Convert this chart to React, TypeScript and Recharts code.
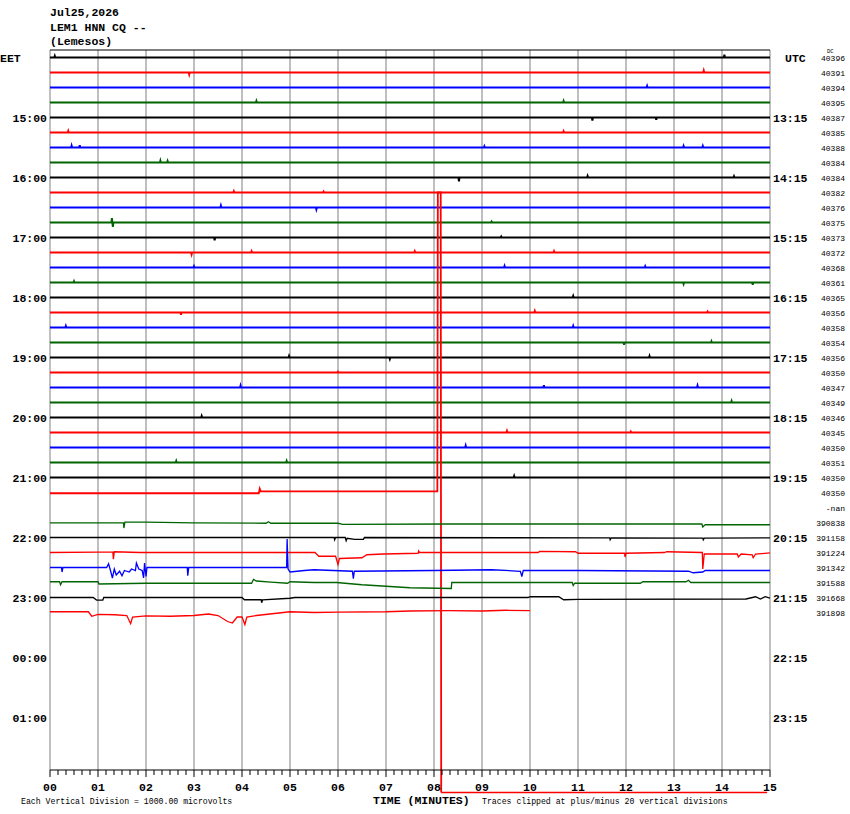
import React from "react";
import { LineChart, Line, XAxis, YAxis, ReferenceLine } from "recharts";

// [minute, offset in vertical divisions (1 division = 1000 microvolts), up is positive]
type Pt = [number, number];

const ROW_COLORS = ["#000000", "#ff0000", "#0000ff", "#006400"];
const CLIP_DIVISIONS = 20;

const LEFT_LABELS = ["EET", "15:00", "16:00", "17:00", "18:00", "19:00", "20:00", "21:00", "22:00", "23:00", "00:00", "01:00"];
const RIGHT_LABELS = ["UTC", "13:15", "14:15", "15:15", "16:15", "17:15", "18:15", "19:15", "20:15", "21:15", "22:15", "23:15"];
const MINUTE_LABELS = ["00", "01", "02", "03", "04", "05", "06", "07", "08", "09", "10", "11", "12", "13", "14", "15"];

const DC_VALUES = [
  "40396", "40391", "40394", "40395", "40387", "40385", "40388", "40384", "40384", "40382",
  "40376", "40375", "40373", "40372", "40368", "40361", "40365", "40356", "40358", "40354",
  "40356", "40350", "40347", "40349", "40346", "40345", "40350", "40351", "40350", "40350",
  "-nan", "390838", "391158", "391224", "391342", "391588", "391668", "391898",
];

// rows 0-28: quiet traces, only the small blips that show
const QUIET_ROW_SPIKES: Pt[][] = [
  [[0.1, 0.1], [14.05, 0.18]],
  [[2.9, -0.12], [13.62, 0.12]],
  [[12.44, 0.1]],
  [[4.3, 0.1], [10.7, 0.1]],
  [[11.3, -0.2], [12.63, -0.15]],
  [[0.38, 0.1], [10.7, 0.08]],
  [[0.45, 0.12], [0.62, 0.15], [9.05, 0.08], [13.2, 0.1], [13.6, 0.1]],
  [[2.3, 0.12], [2.45, 0.1]],
  [[8.52, -0.25], [11.2, 0.1], [14.25, 0.08]],
  [[3.83, 0.08], [5.7, 0.06]],
  [[3.56, 0.12], [5.55, -0.12]],
  [[1.29, 0.3], [1.31, -0.3], [9.2, 0.06]],
  [[3.43, -0.18], [9.4, 0.06]],
  [[2.95, -0.12], [4.2, 0.08], [7.6, 0.08], [10.5, 0.08]],
  [[3.0, 0.08], [9.47, 0.1], [12.4, 0.08]],
  [[0.5, 0.08], [13.2, -0.1], [14.64, -0.15]],
  [[10.9, 0.1]],
  [[2.73, -0.15], [10.1, 0.1], [13.7, 0.06]],
  [[0.33, 0.1], [10.9, 0.1]],
  [[11.96, -0.15], [13.78, 0.08]],
  [[4.98, 0.1], [7.08, -0.1], [12.49, 0.1]],
  [[6.0, 0.05]],
  [[3.97, 0.12], [10.29, 0.15], [13.49, 0.12]],
  [[14.2, 0.1]],
  [[3.16, 0.1]],
  [[9.52, 0.1], [12.1, 0.06]],
  [[8.66, 0.12]],
  [[2.63, 0.1], [4.93, 0.1]],
  [[9.67, 0.1]],
];

// row 29: big offset at 08:05, clipped at +/-20 divisions
const TRACE_ROW29: Pt[] = [
  [0, -0.05], [4.35, -0.05], [4.37, 0.25], [4.39, 0.08], [8.07, 0.08],
  [8.08, 20], [8.14, 20], [8.15, -20], [14.94, -20],
];

const TRACE_ROW31: Pt[] = [
  [0, -0.02], [1.53, -0.02], [1.54, -0.37], [1.56, 0.03], [2.0, 0.03], [3.0, -0.02],
  [4.5, -0.05], [4.55, 0.05], [4.6, -0.05], [6.0, -0.05], [6.1, -0.12], [8.3, -0.1],
  [13.58, -0.1], [13.6, -0.3], [13.65, -0.14], [15, -0.15],
];

const TRACE_ROW32: Pt[] = [
  [0, 0], [5.92, 0], [5.93, -0.15], [5.95, 0], [6.15, 0], [6.17, -0.22], [6.19, -0.05],
  [6.35, -0.12], [6.53, -0.12], [6.55, 0], [11.66, -0.03], [11.67, -0.15], [11.69, -0.03],
  [13.6, -0.04], [13.61, -0.15], [13.63, -0.04], [15, -0.03],
];

const TRACE_ROW33: Pt[] = [
  [0, 0], [1.0, 0.03], [1.31, 0.03], [1.32, -0.45], [1.34, 0.05], [1.87, 0], [5.52, 0],
  [5.6, -0.25], [5.95, -0.25], [6.0, -0.8], [6.03, -0.4], [6.5, -0.35], [6.6, -0.15],
  [6.95, -0.1], [7.67, -0.05], [7.68, 0.1], [7.7, 0], [10.17, 0], [10.2, 0.07], [10.95, 0.05],
  [11.0, -0.05], [11.97, -0.05], [11.98, -0.3], [12.0, -0.05], [12.8, 0], [12.85, 0.05],
  [13.59, 0], [13.6, -1.1], [13.63, -0.1], [14.32, -0.1], [14.34, -0.3], [14.4, -0.1],
  [14.63, -0.15], [14.65, -0.35], [14.7, -0.1], [15, -0.03],
];

const TRACE_ROW34: Pt[] = [
  [0, 0], [0.24, 0], [0.25, -0.3], [0.27, 0], [1.18, 0], [1.22, 0.25], [1.26, -0.2],
  [1.3, -0.7], [1.34, -0.1], [1.38, -0.5], [1.45, -0.25], [1.5, -0.55], [1.55, -0.2],
  [1.65, -0.3], [1.7, -0.1], [1.78, -0.2], [1.8, 0.3], [1.85, -0.1], [1.92, -0.2],
  [1.95, -0.7], [1.97, 0.3], [2.0, -0.6], [2.02, 0], [2.86, 0], [2.87, -0.55], [2.89, 0],
  [4.93, 0], [4.94, 1.9], [4.96, -0.1], [5.0, -0.3], [5.3, -0.2], [5.5, -0.15], [5.9, -0.2],
  [6.3, -0.25], [6.32, -0.75], [6.34, -0.25], [8.0, -0.2], [9.2, -0.15], [9.8, -0.25],
  [9.83, -0.6], [9.86, -0.2], [11.0, -0.2], [13.3, -0.25], [13.4, -0.35], [13.6, -0.3],
  [13.65, -0.2], [15, -0.2],
];

const TRACE_ROW35: Pt[] = [
  [0, 0.05], [0.2, 0.05], [0.22, -0.15], [0.25, 0.05], [1.0, 0.05], [1.02, -0.1], [2.0, -0.05],
  [4.2, -0.05], [4.24, 0.2], [4.3, 0.1], [4.6, 0.03], [4.95, -0.05], [5.0, 0.05], [5.5, 0],
  [5.97, 0], [6.5, -0.15], [7.0, -0.25], [7.5, -0.35], [8.36, -0.4], [8.37, 0], [10.88, 0],
  [10.9, -0.2], [10.93, -0.05], [12.3, -0.05], [12.35, 0.05], [13.25, 0.05], [13.3, 0.15],
  [13.35, 0], [15, 0],
];

const TRACE_ROW36: Pt[] = [
  [0, 0], [0.9, 0], [0.97, -0.17], [1.1, -0.17], [1.12, 0], [4.0, 0], [4.05, -0.15],
  [4.4, -0.15], [4.41, -0.35], [4.43, -0.15], [5.0, -0.05], [5.1, 0], [9.96, 0], [10.0, 0.05],
  [10.6, 0.05], [10.7, -0.15], [11.0, -0.12], [14.5, -0.1], [14.7, 0.05], [14.8, -0.1],
  [14.9, 0.05], [15, -0.05],
];

const TRACE_ROW37: Pt[] = [
  [0, 0.05], [0.8, 0.05], [0.87, -0.25], [1.0, -0.12], [1.35, -0.15], [1.6, -0.2],
  [1.68, -0.75], [1.72, -0.3], [2.0, -0.22], [2.5, -0.25], [3.0, -0.2], [3.3, -0.1],
  [3.5, -0.2], [3.7, -0.6], [3.8, -0.7], [3.9, -0.3], [4.0, -0.3], [4.06, -0.8], [4.1, -0.3],
  [4.3, -0.2], [5.0, 0.05], [5.5, 0], [6.0, 0.03], [7.0, 0.05], [7.5, 0.1], [8.3, 0.12],
  [9.0, 0.1], [9.5, 0.15], [10.0, 0.12],
];

const ACTIVE_TRACES: { row: number; pts: Pt[] }[] = [
  { row: 29, pts: TRACE_ROW29 },
  { row: 31, pts: TRACE_ROW31 },
  { row: 32, pts: TRACE_ROW32 },
  { row: 33, pts: TRACE_ROW33 },
  { row: 34, pts: TRACE_ROW34 },
  { row: 35, pts: TRACE_ROW35 },
  { row: 36, pts: TRACE_ROW36 },
  { row: 37, pts: TRACE_ROW37 },
];

const ROWS = 48;
const MINUTES = MINUTE_LABELS.map((_, i) => i);
const MINUTE_TICKS = [
  ...MINUTES.slice(0, -1).flatMap((m) => [0, 1, 2, 3, 4, 5].map((k) => m + k / 6)),
  15,
];
const ROW_TICKS = Array.from({ length: ROWS }, (_, r) => r + 0.5);

const FONT = '"Liberation Mono", "DejaVu Sans Mono", monospace';

const toData = (row: number, pts: Pt[]) => pts.map(([t, d]) => ({ t, v: row + 0.5 - d }));

const quietPoints = (spikes: Pt[]): Pt[] => [
  [0, 0],
  ...spikes.flatMap(([t, d]) => [[t - 0.01, 0], [t, d], [t + 0.01, 0]] as Pt[]),
  [15, 0],
];

function LeftTick({ x, y, payload }: any) {
  const i = Math.round((payload.value - 0.5) / 4);
  const first = i === 0;
  return (
    <text x={first ? 0 : x} y={y + 4} textAnchor={first ? "start" : "end"} fontSize={11.5} fontWeight="bold" fontFamily={FONT} fill="#000">
      {LEFT_LABELS[i]}
    </text>
  );
}

function RightTick({ x, y, payload }: any) {
  const row = Math.floor(payload.value);
  const time = row % 4 === 0 ? RIGHT_LABELS[row / 4] : null;
  const dc = DC_VALUES[row];
  return (
    <g>
      {time && (
        <text x={row === 0 ? x + 12 : x} y={y + 4.5} fontSize={11.5} fontWeight="bold" fontFamily={FONT} fill="#000">
          {time}
        </text>
      )}
      {dc && (
        <text x={x + 72} y={y + 3.5} textAnchor="end" fontSize={8} fontFamily={FONT} fill="#000">
          {dc}
        </text>
      )}
      {row === 0 && (
        <text x={x + 54} y={y - 5} fontSize={5.5} fontFamily={FONT} fill="#000">
          DC
        </text>
      )}
    </g>
  );
}

function MinuteTick({ x, y, payload }: any) {
  const v = payload.value;
  const major = Math.abs(v - Math.round(v)) < 1e-6;
  return (
    <g>
      <line x1={x} x2={x} y1={y} y2={y + (major ? 7 : 5)} stroke="#000" />
      {major && (
        <text x={x} y={y + 21} textAnchor="middle" fontSize={11.5} fontWeight="bold" fontFamily={FONT} fill="#000">
          {MINUTE_LABELS[Math.round(v)]}
        </text>
      )}
    </g>
  );
}

export default function App() {
  const tailT = TRACE_ROW29[7][0];
  const tailEnd = TRACE_ROW29[TRACE_ROW29.length - 1][0];
  const tailV = 29 + 0.5 + CLIP_DIVISIONS;

  return (
    <div style={{ position: "absolute", left: 0, top: 0, width: 850, height: 814, background: "#fff" }}>
      <LineChart width={850} height={814} margin={{ top: 50, right: 0, bottom: 0, left: 0 }}>
        <XAxis
          xAxisId={0}
          type="number"
          dataKey="t"
          domain={[0, 15]}
          allowDataOverflow
          ticks={MINUTE_TICKS}
          interval={0}
          tick={<MinuteTick />}
          tickLine={false}
          tickSize={0}
          tickMargin={0}
          height={44}
          axisLine={{ stroke: "#000" }}
        />
        <YAxis
          yAxisId="left"
          type="number"
          domain={[0, ROWS]}
          reversed
          allowDataOverflow
          ticks={LEFT_LABELS.map((_, i) => i * 4 + 0.5)}
          interval={0}
          tick={<LeftTick />}
          tickLine={false}
          tickSize={0}
          tickMargin={3}
          axisLine={false}
          width={50}
        />
        <YAxis
          yAxisId="right"
          orientation="right"
          type="number"
          domain={[0, ROWS]}
          reversed
          allowDataOverflow
          ticks={ROW_TICKS}
          interval={0}
          tick={<RightTick />}
          tickLine={false}
          tickSize={0}
          tickMargin={3}
          axisLine={false}
          width={80}
        />

        {MINUTES.map((m) => (
          <ReferenceLine key={`g${m}`} x={m} yAxisId="left" stroke="#808080" strokeWidth={1} ifOverflow="visible" />
        ))}
        <ReferenceLine y={0} yAxisId="left" stroke="#000" strokeWidth={1} ifOverflow="visible" />

        {QUIET_ROW_SPIKES.map((spikes, row) => (
          <Line
            key={`q${row}`}
            yAxisId="left"
            data={toData(row, quietPoints(spikes))}
            dataKey="v"
            type="linear"
            stroke={ROW_COLORS[row % 4]}
            strokeWidth={2}
            dot={false}
            activeDot={false}
            isAnimationActive={false}
          />
        ))}
        {ACTIVE_TRACES.map(({ row, pts }) => (
          <Line
            key={`a${row}`}
            yAxisId="left"
            data={toData(row, pts)}
            dataKey="v"
            type="linear"
            stroke={ROW_COLORS[row % 4]}
            strokeWidth={row === 29 ? 1.8 : 1.3}
            dot={false}
            activeDot={false}
            isAnimationActive={false}
          />
        ))}

        {/* the clipped trace keeps running below the frame */}
        <ReferenceLine
          yAxisId="left"
          segment={[{ x: tailT, y: ROWS }, { x: tailT, y: tailV }]}
          stroke={ROW_COLORS[1]}
          strokeWidth={1.8}
          ifOverflow="visible"
        />
        <ReferenceLine
          yAxisId="left"
          segment={[{ x: tailT, y: tailV }, { x: tailEnd, y: tailV }]}
          stroke={ROW_COLORS[1]}
          strokeWidth={1.5}
          ifOverflow="visible"
        />
      </LineChart>

      <svg width={850} height={814} style={{ position: "absolute", left: 0, top: 0, pointerEvents: "none" }}>
        <g fontFamily={FONT} fontWeight="bold" fontSize={11.5} fill="#000">
          <text x={50} y={16}>Jul25,2026</text>
          <text x={50} y={31}>LEM1 HNN CQ --</text>
          <text x={50} y={45}>(Lemesos)</text>
          <text x={373} y={804}>TIME (MINUTES)</text>
        </g>
        <g fontFamily={FONT} fontSize={8.2} fill="#000">
          <text x={21} y={804}>Each Vertical Division = 1000.00 microvolts</text>
          <text x={482} y={804}>Traces clipped at plus/minus 20 vertical divisions</text>
        </g>
      </svg>
    </div>
  );
}
